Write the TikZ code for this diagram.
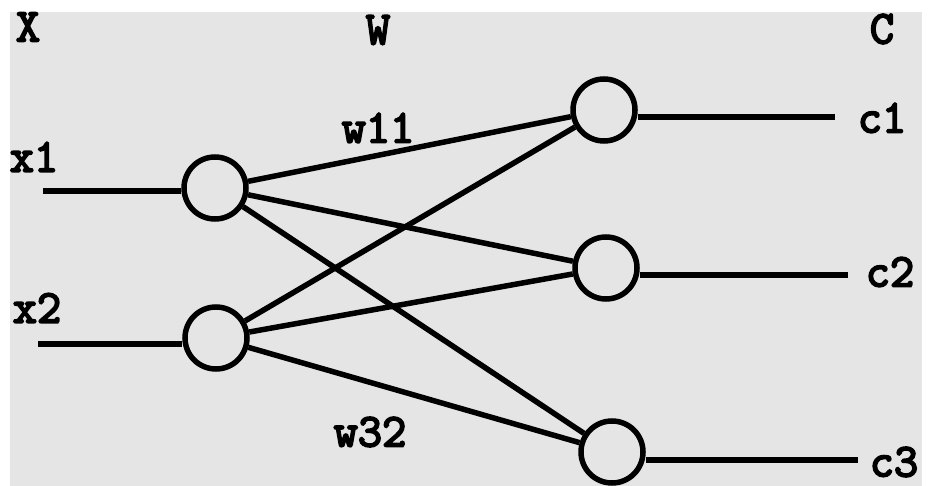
\documentclass[tikz,border=0pt]{standalone}
\usepackage{fontspec}
\newfontfamily\labelfont{Latin Modern Mono}[FakeBold=4]
\begin{document}
\begin{tikzpicture}[x=1pt,y=-1pt,
  neuron/.style={circle,draw=black,line width=5.5pt,inner sep=0pt,minimum size=62pt},
  wire/.style={draw=black,line width=6.5pt},
  lbl/.style={font=\labelfont\fontsize{47}{47}\selectfont\bfseries,inner sep=0pt,anchor=center}]
  % page and grey panel
  \useasboundingbox (0,0) rectangle (931,486);
  \fill[white] (0,0) rectangle (931,486);
  \fill[gray!20] (10,12) rectangle (922,486);

  % column headings
  \node[lbl] (hx) at (28,27) {X};
  \node[lbl] (hw) at (378,30) {W};
  \node[lbl] (hc) at (882,29) {C};

  % input neurons
  \node[neuron] (i1) at (215,188) {};
  \node[neuron] (i2) at (216,338) {};

  % output neurons
  \node[neuron] (o1) at (604,110) {};
  \node[neuron] (o2) at (606,268) {};
  \node[neuron] (o3) at (612,452) {};

  % input wires
  \coordinate (a1) at (43,191);
  \coordinate (a2) at (38,344);
  \draw[wire] (a1) -- (i1.west |- a1);
  \draw[wire] (a2) -- (i2.west |- a2);
  \node[lbl] (lx1) at (34,157) {x1};
  \node[lbl] (lx2) at (37,308) {x2};

  % output wires
  \coordinate (b1) at (835,117);
  \coordinate (b2) at (848,275);
  \coordinate (b3) at (858,460);
  \draw[wire] (o1.east |- b1) -- (b1);
  \draw[wire] (o2.east |- b2) -- (b2);
  \draw[wire] (o3.east |- b3) -- (b3);
  \node[lbl] (lc1) at (882,118) {c1};
  \node[lbl] (lc2) at (890,272) {c2};
  \node[lbl] (lc3) at (894,462) {c3};

  % weights: every input to every output
  \foreach \i in {1,2}{
    \foreach \o in {1,2,3}{
      \draw[wire,line width=5.5pt] (i\i) -- (o\o);
    }
  }
  \node[lbl] (w11) at (378,128) {w11};
  \node[lbl] (w32) at (370,432) {w32};
\end{tikzpicture}
\end{document}
